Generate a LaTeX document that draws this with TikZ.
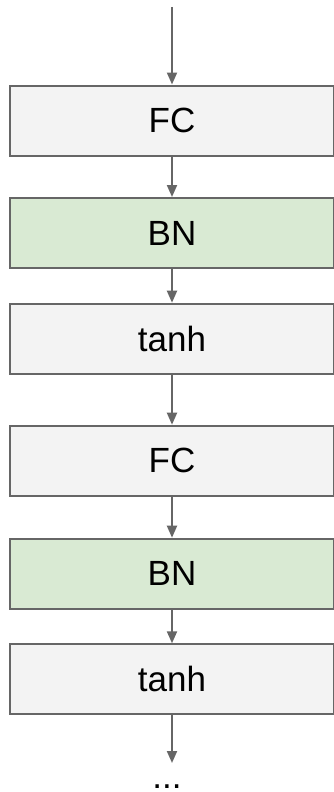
\documentclass[tikz,border=0pt]{standalone}
\usepackage{fontspec}
\setmainfont{Liberation Sans}
\usetikzlibrary{arrows.meta}
\definecolor{boxgray}{HTML}{F3F3F3}
\definecolor{boxgreen}{HTML}{D9EAD3}
\definecolor{edge}{HTML}{666666}
\tikzset{
  layer/.style={draw=edge, line width=2pt, minimum width=324pt, minimum height=70pt,
    inner sep=0pt, font=\fontsize{35}{40}\selectfont, text=black},
  graybox/.style={layer, fill=boxgray},
  greenbox/.style={layer, fill=boxgreen},
  flow/.style={draw=edge, line width=2pt, -{Triangle[length=12pt,width=10pt]}}
}
\begin{document}
\begin{tikzpicture}[x=1pt,y=-1pt]
\useasboundingbox (0,0) rectangle (334,792);
\clip (0,0) rectangle (334,792);
\coordinate (start) at (172,7);
\node[graybox] (fc1) at (172,120.5) {FC};
\node[greenbox] (bn1) at (172,233) {BN};
\node[graybox] (tanh1) at (172,338.7) {tanh};
\node[graybox] (fc2) at (172,460.7) {FC};
\node[greenbox] (bn2) at (172,573.7) {BN};
\node[graybox] (tanh2) at (172,679.3) {tanh};
\coordinate (end) at (172,763);
\node[anchor=base, font=\fontsize{35}{40}\selectfont, inner sep=0pt] (dots) at (167,788) {...};
\draw[flow] (start) -- (fc1.north);
\draw[flow] (fc1) -- (bn1);
\draw[flow] (bn1) -- (tanh1);
\draw[flow] (tanh1) -- (fc2);
\draw[flow] (fc2) -- (bn2);
\draw[flow] (bn2) -- (tanh2);
\draw[flow] (tanh2) -- (end);
\end{tikzpicture}
\end{document}
